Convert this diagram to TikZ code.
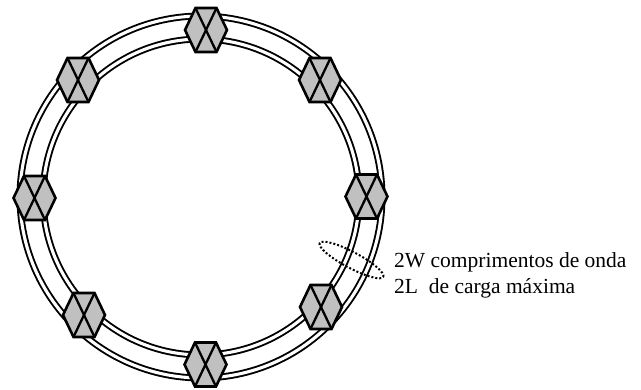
\documentclass[tikz,border=0pt]{standalone}
\usepackage{fontspec}
\setmainfont{Liberation Serif}
\definecolor{hexgray}{RGB}{192,192,192}
\tikzset{
  ringline/.style={line width=1.9pt, double=white, double distance=3.1pt},
  hexborder/.style={line width=2.6pt, line join=miter, fill=hexgray, draw=black},
  hexcross/.style={line width=2.3pt},
  pics/hexa/.style={code={
    \filldraw[hexborder] (-10.5,22) -- (10.5,22) -- (21,0) -- (10.5,-22) -- (-10.5,-22) -- (-21,0) -- cycle;
    \draw[hexcross] (-10.5,22) -- (10.5,-22) (10.5,22) -- (-10.5,-22);
  }},
  dotring/.style={line width=2pt, dash pattern=on 2pt off 2pt},
  lbl/.style={anchor=base west, inner sep=0pt, font=\fontsize{21.5}{26}\selectfont}
}
\begin{document}
\begin{tikzpicture}[x=1pt,y=1pt]
\useasboundingbox (0,0) rectangle (641,390);
\coordinate (c) at (201,193);
\draw[ringline] (c) circle[radius=181];
\draw[ringline] (c) circle[radius=158];
\coordinate (ntop) at (206,360);
\coordinate (ntr) at (320,310);
\coordinate (nr) at (366.5,193.5);
\coordinate (nbr) at (321,83);
\coordinate (nb) at (205.5,25.5);
\coordinate (nbl) at (84,75);
\coordinate (nl) at (34.5,192);
\coordinate (ntl) at (78,310);
\foreach \n in {ntop,ntr,nr,nbr,nb,nbl,nl,ntl} {\pic at (\n) {hexa};}
\coordinate (ec) at (351.5,130);
\draw[dotring] (ec) ellipse[x radius=36, y radius=8, rotate=-28];
\node[lbl] (t1) at (394,122) {2W comprimentos de onda};
\node[lbl] (t2) at (394,96) {2L\ \ de carga máxima};
\end{tikzpicture}
\end{document}
